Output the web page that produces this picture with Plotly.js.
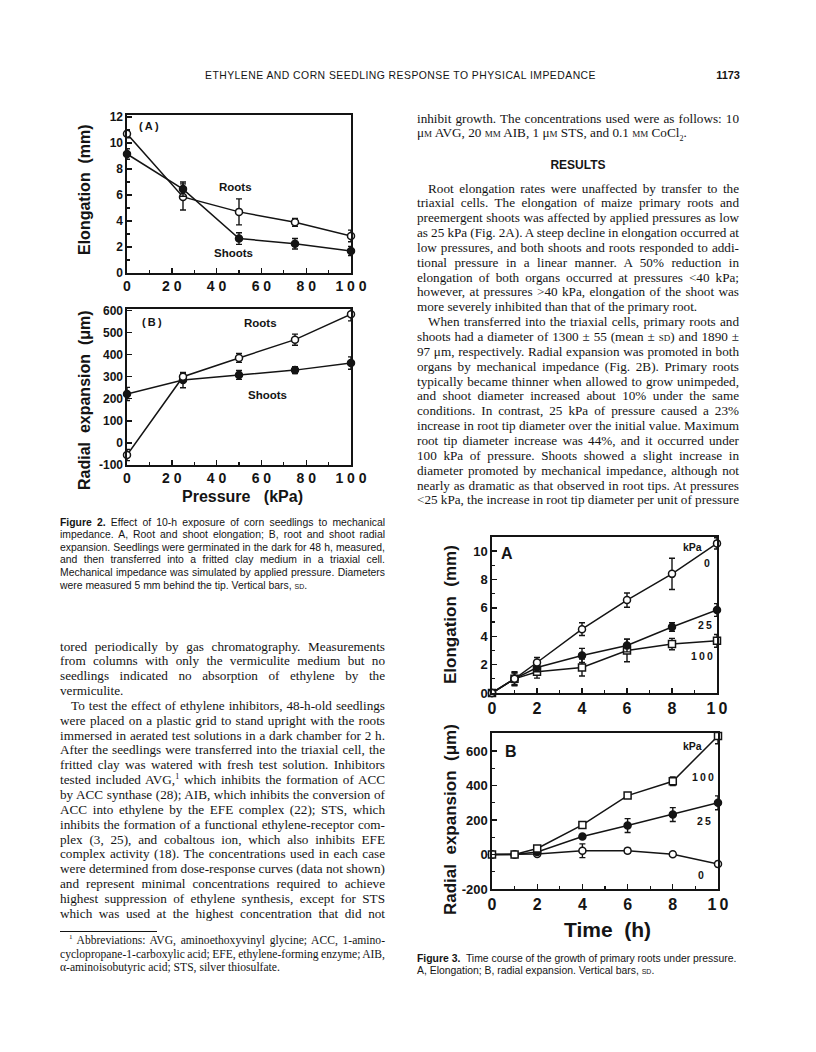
<!DOCTYPE html>
<html>
<head>
<meta charset="utf-8">
<script src="https://cdn.plot.ly/plotly-3.0.1.min.js"></script>
<style>
    html, body {
        margin: 0;
        padding: 0;
        background: #fff;
    }
    #page {
        position: relative;
        width: 816px;
        height: 1052px;
        overflow: hidden;
    }
    #graph {
        position: absolute;
        left: 0;
        top: 0;
        width: 816px;
        height: 1052px;
    }
    #text-layer div {
        position: absolute;
        color: #141414;
        white-space: normal;
    }
    .sc {
        font-variant: small-caps;
    }
</style>
</head>
<body>
<div id="page">
    <div id="graph"></div>
    <div id="text-layer"></div>
</div>
<script>
// Рисунок 2: давление (кПа), удлинение (мм) и радиальное расширение (мкм)
const pressure = [0, 25, 50, 75, 100];
const rootElong = [10.7, 5.85, 4.7, 3.9, 2.85];
const rootElongSd = [0.3, 1.0, 1.0, 0.3, 0.45];
const shootElong = [9.15, 6.45, 2.65, 2.25, 1.7];
const shootElongSd = [0.4, 0.55, 0.45, 0.4, 0.35];
const rootRadial = [-55, 300, 385, 468, 583];
const rootRadialSd = [25, 15, 20, 25, 30];
const shootRadial = [222, 285, 308, 330, 362];
const shootRadialSd = [30, 35, 20, 15, 28];

// Рисунок 3: время (ч) при 0, 25 и 100 кПа
const hours = [0, 1, 2, 4, 6, 8, 10];
const elong0 = [0, 1.0, 2.15, 4.5, 6.55, 8.4, 10.55];
const elong0Sd = [0, 0.45, 0.35, 0.45, 0.5, 1.1, 0.4];
const elong25 = [0, 1.0, 1.8, 2.65, 3.35, 4.65, 5.85];
const elong25Sd = [0, 0.4, 0.3, 0.5, 0.45, 0.3, 0.45];
const elong100 = [0, 1.0, 1.5, 1.8, 3.0, 3.45, 3.68];
const elong100Sd = [0, 0.5, 0.45, 0.6, 0.8, 0.4, 0.45];
const radial0 = [0, 0, 3, 22, 22, 2, -55];
const radial0Sd = [0, 10, 10, 40, 15, 12, 15];
const radial25 = [0, 0, 15, 105, 168, 232, 300];
const radial25Sd = [0, 8, 10, 12, 40, 40, 40];
const radial100 = [0, 0, 35, 172, 342, 425, 688];
const radial100Sd = [0, 8, 10, 15, 12, 25, 45];

// Подписи делений
const pressureTicks = [0, 20, 40, 60, 80, 100];
const pressureTickText = ['0', '2 0', '4 0', '6 0', '8 0', '1 0 0'];
const elongTicks2 = [0, 2, 4, 6, 8, 10, 12];
const radialTicks2 = [-100, 0, 100, 200, 300, 400, 500, 600];
const hourTicks = [0, 2, 4, 6, 8, 10];
const hourTickText = ['0', '2', '4', '6', '8', '1\u20090'];
const elongTicks3 = [0, 2, 4, 6, 8, 10];
const radialTicks3 = [-200, 0, 200, 400, 600];

const W = 816, H = 1052;
const SANS = 'Liberation Sans, Arial, sans-serif';
const NARROW = 'Liberation Sans Narrow, Liberation Sans, Arial, sans-serif';
const SERIF = 'Liberation Serif, Times New Roman, serif';
const INK = '#141414';

// пиксели страницы -> доли бумаги
const px = v => v / W;
const py = v => 1 - v / H;

function series(x, y, sd, xa, ya, symbol, fill) {
    return {
        x: x, y: y,
        xaxis: xa, yaxis: ya,
        type: 'scatter',
        mode: 'lines+markers',
        cliponaxis: false,
        showlegend: false,
        line: { color: INK, width: 1.5 },
        marker: { symbol: symbol, size: 7, color: fill, line: { color: INK, width: 1.5 } },
        error_y: { type: 'data', array: sd, visible: true, color: INK, thickness: 1.4, width: 3 }
    };
}

const traces = [
    series(pressure, rootElong, rootElongSd, 'x', 'y', 'circle', '#fff'),
    series(pressure, shootElong, shootElongSd, 'x', 'y', 'circle', INK),
    series(pressure, shootRadial, shootRadialSd, 'x2', 'y2', 'circle', INK),
    series(pressure, rootRadial, rootRadialSd, 'x2', 'y2', 'circle', '#fff'),
    series(hours, elong100, elong100Sd, 'x3', 'y3', 'square', '#fff'),
    series(hours, elong25, elong25Sd, 'x3', 'y3', 'circle', INK),
    series(hours, elong0, elong0Sd, 'x3', 'y3', 'circle', '#fff'),
    series(hours, radial0, radial0Sd, 'x4', 'y4', 'circle', '#fff'),
    series(hours, radial25, radial25Sd, 'x4', 'y4', 'circle', INK),
    series(hours, radial100, radial100Sd, 'x4', 'y4', 'square', '#fff')
];

function axis(extra) {
    return Object.assign({
        showline: true, mirror: true, linecolor: INK, linewidth: 1.6,
        ticks: 'inside', ticklen: 5, tickwidth: 1.4, tickcolor: INK,
        showgrid: false, zeroline: false, fixedrange: true,
        tickmode: 'array'
    }, extra);
}

const tickFont = size => ({ family: SANS, size: size, color: INK, weight: 'bold' });
const minor = step => ({ dtick: step, ticks: 'inside', ticklen: 3, tickwidth: 1.2, tickcolor: INK, showgrid: false });

function label(text, x, y, xref, yref, size, extra) {
    return Object.assign({
        text: text, x: x, y: y, xref: xref, yref: yref,
        showarrow: false, xanchor: 'center', yanchor: 'middle',
        font: { family: SANS, size: size, color: INK, weight: 'bold' }
    }, extra || {});
}

const layout = {
    width: W, height: H,
    margin: { l: 0, r: 0, t: 0, b: 0 },
    paper_bgcolor: 'rgba(0,0,0,0)',
    plot_bgcolor: 'rgba(0,0,0,0)',
    showlegend: false,

    xaxis: axis({ domain: [px(127), px(351)], anchor: 'y', range: [0, 100],
        tickvals: pressureTicks, ticktext: pressureTickText, tickfont: tickFont(14), minor: minor(10) }),
    yaxis: axis({ domain: [py(273), py(115)], anchor: 'x', range: [0, 12.15],
        tickvals: elongTicks2, ticktext: elongTicks2.map(String), tickfont: tickFont(12), minor: minor(1) }),

    xaxis2: axis({ domain: [px(127), px(351)], anchor: 'y2', range: [0, 100],
        tickvals: pressureTicks, ticktext: pressureTickText, tickfont: tickFont(14), minor: minor(10) }),
    yaxis2: axis({ domain: [py(465), py(309)], anchor: 'x2', range: [-100, 607],
        tickvals: radialTicks2, ticktext: radialTicks2.map(String), tickfont: tickFont(12) }),

    xaxis3: axis({ domain: [px(492), px(717)], anchor: 'y3', range: [0, 10],
        tickvals: hourTicks, ticktext: hourTickText, tickfont: tickFont(16), minor: minor(1) }),
    yaxis3: axis({ domain: [py(693), py(537)], anchor: 'x3', range: [0, 11],
        tickvals: elongTicks3, ticktext: elongTicks3.map(String), tickfont: tickFont(13), minor: minor(1) }),

    xaxis4: axis({ domain: [px(492), px(718)], anchor: 'y4', range: [0, 10],
        tickvals: hourTicks, ticktext: hourTickText, tickfont: tickFont(16), minor: minor(1) }),
    yaxis4: axis({ domain: [py(889), py(733)], anchor: 'x4', range: [-200, 705],
        tickvals: radialTicks3, ticktext: radialTicks3.map(String), tickfont: tickFont(13), minor: minor(100) }),

    annotations: [
        // заголовки осей
        label('Elongation\u00a0\u00a0(mm)', px(85), py(190), 'paper', 'paper', 16, { textangle: -90 }),
        label('Radial\u00a0\u00a0expansion\u00a0\u00a0(\u03bcm)', px(85), py(400), 'paper', 'paper', 16, { textangle: -90 }),
        label('Pressure\u00a0\u00a0\u00a0(kPa)', px(242), py(497), 'paper', 'paper', 16),
        label('Elongation\u00a0\u00a0(mm)', px(450), py(615), 'paper', 'paper', 16, { textangle: -90, font: { family: NARROW, size: 17, color: INK, weight: 'bold' } }),
        label('Radial\u00a0\u00a0expansion\u00a0\u00a0(\u03bcm)', px(450), py(820), 'paper', 'paper', 16, { textangle: -90, font: { family: NARROW, size: 17, color: INK, weight: 'bold' } }),
        label('Time\u00a0\u00a0(h)', px(607), py(929), 'paper', 'paper', 21),

        // подписи внутри панелей
        label('(\u2009A\u2009)', 10, 11.3, 'x', 'y', 11),
        label('Roots', 48.3, 6.6, 'x', 'y', 11.5),
        label('Shoots', 47.5, 1.5, 'x', 'y', 11.5),
        label('(\u2009B\u2009)', 11, 547, 'x2', 'y2', 11),
        label('Roots', 59.7, 543, 'x2', 'y2', 11.5),
        label('Shoots', 62.7, 216, 'x2', 'y2', 11.5),

        label('A', 0.67, 9.85, 'x3', 'y3', 16),
        label('kPa', 8.92, 10.3, 'x3', 'y3', 10.5),
        label('0', 9.55, 9.15, 'x3', 'y3', 10.5),
        label('2\u20095', 9.45, 4.8, 'x3', 'y3', 10.5),
        label('1\u20090\u20090', 9.33, 2.62, 'x3', 'y3', 10.5),
        label('B', 0.84, 600, 'x4', 'y4', 16),
        label('kPa', 8.88, 630, 'x4', 'y4', 10.5),
        label('1\u20090\u20090', 9.32, 451, 'x4', 'y4', 10.5),
        label('2\u20095', 9.36, 196, 'x4', 'y4', 10.5),
        label('0', 9.26, -119, 'x4', 'y4', 10.5)
    ]
};

Plotly.newPlot('graph', traces, layout, { displayModeBar: false, staticPlot: true });

// ---------- текст страницы ----------
const layer = document.querySelector('#text-layer');

// Одна строка: подгоняется по ширине и выравнивается по обоим краям
function putLine(html, x, y, w, opt) {
    const d = document.createElement('div');
    d.style.left = x + 'px';
    d.style.top = (y - opt.lh / 2) + 'px';
    d.style.width = w + 'px';
    d.style.fontFamily = opt.family;
    d.style.fontSize = opt.size + 'px';
    d.style.lineHeight = opt.lh + 'px';
    if (opt.weight) d.style.fontWeight = opt.weight;
    d.style.textAlign = 'left';
    d.style.whiteSpace = 'nowrap';
    const s = document.createElement('span');
    s.innerHTML = html;
    d.appendChild(s);
    layer.appendChild(d);
    // ширина без переноса
    const nat = s.getBoundingClientRect().width;
    const gaps = (s.textContent.match(/ /g) || []).length;
    if (nat > w - 1 && gaps > 0) {
        d.style.wordSpacing = ((w - 1 - nat) / gaps) + 'px';
    }
    if (opt.spread) {
        const chars = s.textContent.length;
        d.style.letterSpacing = ((w - nat) / chars) + 'px';
    }
    d.style.whiteSpace = 'normal';
    if (opt.justify) {
        d.style.textAlign = 'justify';
        d.style.textAlignLast = 'justify';
    }
    if (opt.center) d.style.textAlign = 'center';
    return d;
}

// Абзац: первая строка с отступом, последняя без растяжки
function putPara(lines, x, y, w, opt) {
    lines.forEach((t, i) => {
        const first = i === 0 && opt.indent;
        const last = i === lines.length - 1 && opt.end;
        const ind = first ? opt.indentPx : 0;
        putLine(t, x + ind, y + i * opt.step, w - ind, Object.assign({}, opt, { justify: !last }));
    });
    return y + lines.length * opt.step;
}

const body = { family: SERIF, size: 13.2, lh: 15, step: 14.85, indentPx: 11 };
const cap = { family: SANS, size: 10.4, lh: 13, step: 12.6, indentPx: 0 };
const foot = { family: SERIF, size: 11.6, lh: 13.5, step: 13.5, indentPx: 9 };

// колонтитул
putLine('ETHYLENE AND CORN SEEDLING RESPONSE TO PHYSICAL IMPEDANCE', 205, 75, 391,
    { family: SANS, size: 10.4, lh: 13, spread: true });
putLine('1173', 700, 75, 40, { family: SANS, size: 11, lh: 13, weight: 'bold' }).style.textAlign = 'right';

// правая колонка
const colR = 417, colRW = 322;
putPara([
    'inhibit growth. The concentrations used were as follows: 10',
    '\u03bc<span class="sc">m</span> AVG, 20 <span class="sc">mm</span> AIB, 1 \u03bc<span class="sc">m</span> STS, and 0.1 <span class="sc">mm</span> CoCl<sub style="font-size:8px;line-height:0">2</sub>.'
], colR, 118, colRW, Object.assign({}, body, { indent: false, end: true }));

putLine('RESULTS', colR, 165, colRW, { family: SANS, size: 12, lh: 14, weight: 'bold', center: true });

let yR = putPara([
    'Root elongation rates were unaffected by transfer to the',
    'triaxial cells. The elongation of maize primary roots and',
    'preemergent shoots was affected by applied pressures as low',
    'as 25 kPa (Fig. 2A). A steep decline in elongation occurred at',
    'low pressures, and both shoots and roots responded to addi-',
    'tional pressure in a linear manner. A 50% reduction in',
    'elongation of both organs occurred at pressures &lt;40 kPa;',
    'however, at pressures &gt;40 kPa, elongation of the shoot was',
    'more severely inhibited than that of the primary root.'
], colR, 188, colRW, Object.assign({}, body, { indent: true, end: true }));

putPara([
    'When transferred into the triaxial cells, primary roots and',
    'shoots had a diameter of 1300 \u00b1 55 (mean \u00b1 <span class="sc">sd</span>) and 1890 \u00b1',
    '97 \u03bcm, respectively. Radial expansion was promoted in both',
    'organs by mechanical impedance (Fig. 2B). Primary roots',
    'typically became thinner when allowed to grow unimpeded,',
    'and shoot diameter increased about 10% under the same',
    'conditions. In contrast, 25 kPa of pressure caused a 23%',
    'increase in root tip diameter over the initial value. Maximum',
    'root tip diameter increase was 44%, and it occurred under',
    '100 kPa of pressure. Shoots showed a slight increase in',
    'diameter promoted by mechanical impedance, although not',
    'nearly as dramatic as that observed in root tips. At pressures',
    '&lt;25 kPa, the increase in root tip diameter per unit of pressure'
], colR, yR, colRW, Object.assign({}, body, { indent: true, end: false }));

// подпись к рисунку 2
putPara([
    '<b>Figure 2.</b> Effect of 10-h exposure of corn seedlings to mechanical',
    'impedance. A, Root and shoot elongation; B, root and shoot radial',
    'expansion. Seedlings were germinated in the dark for 48 h, measured,',
    'and then transferred into a fritted clay medium in a triaxial cell.',
    'Mechanical impedance was simulated by applied pressure. Diameters',
    'were measured 5 mm behind the tip. Vertical bars, <span class="sc">sd</span>.'
], 60, 522, 325, Object.assign({}, cap, { indent: false, end: true }));

// левая колонка
const colL = 60, colLW = 325;
let yL = putPara([
    'tored periodically by gas chromatography. Measurements',
    'from columns with only the vermiculite medium but no',
    'seedlings indicated no absorption of ethylene by the',
    'vermiculite.'
], colL, 646, colLW, Object.assign({}, body, { indent: false, end: true }));

putPara([
    'To test the effect of ethylene inhibitors, 48-h-old seedlings',
    'were placed on a plastic grid to stand upright with the roots',
    'immersed in aerated test solutions in a dark chamber for 2 h.',
    'After the seedlings were transferred into the triaxial cell, the',
    'fritted clay was watered with fresh test solution. Inhibitors',
    'tested included AVG,<sup style="font-size:8px;line-height:0">1</sup> which inhibits the formation of ACC',
    'by ACC synthase (28); AIB, which inhibits the conversion of',
    'ACC into ethylene by the EFE complex (22); STS, which',
    'inhibits the formation of a functional ethylene-receptor com-',
    'plex (3, 25), and cobaltous ion, which also inhibits EFE',
    'complex activity (18). The concentrations used in each case',
    'were determined from dose-response curves (data not shown)',
    'and represent minimal concentrations required to achieve',
    'highest suppression of ethylene synthesis, except for STS',
    'which was used at the highest concentration that did not'
], colL, yL, colLW, Object.assign({}, body, { indent: true, end: false }));

// сноска
const rule = document.createElement('div');
rule.style.cssText = 'left:60px;top:931px;width:97px;height:1px;background:#141414;';
layer.appendChild(rule);
putPara([
    '<sup style="font-size:7px;line-height:0">1</sup> Abbreviations: AVG, aminoethoxyvinyl glycine; ACC, 1-amino-',
    'cyclopropane-1-carboxylic acid; EFE, ethylene-forming enzyme; AIB,',
    '\u03b1-aminoisobutyric acid; STS, silver thiosulfate.'
], colL, 941, colLW, Object.assign({}, foot, { indent: true, end: true }));

// подпись к рисунку 3
putLine('<b>Figure 3.</b>&nbsp; Time course of the growth of primary roots under pressure.', 417, 958, 325, cap);
putLine('A, Elongation; B, radial expansion. Vertical bars, <span class="sc">sd</span>.', 417, 970.6, 325, cap);
</script>
</body>
</html>
